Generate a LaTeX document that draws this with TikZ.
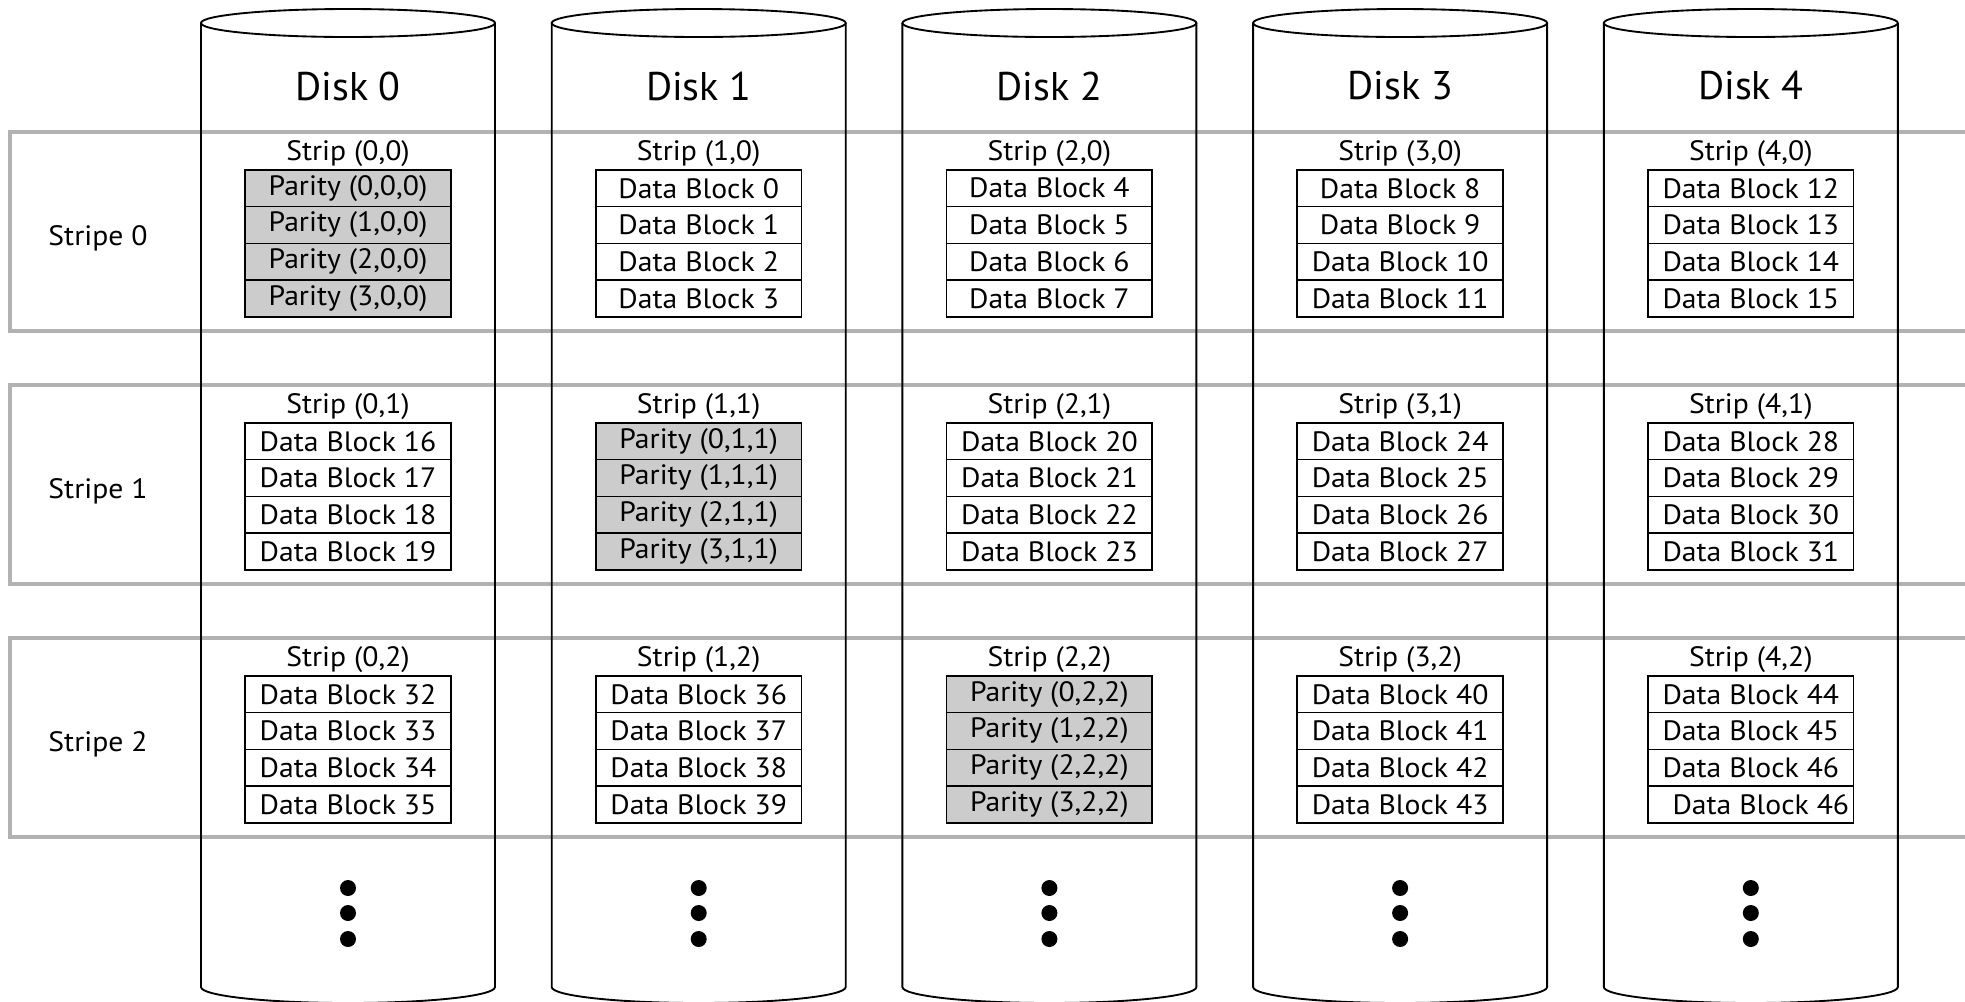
\documentclass[tikz,border=0pt]{standalone}
\usepackage{fontspec}
\setmainfont{PT Sans}
\newfontfamily\blockfont[FakeStretch=1.06]{PT Sans}
\definecolor{stripegray}{RGB}{178,178,178}
\definecolor{parityfill}{RGB}{204,204,204}
\begin{document}
\begin{tikzpicture}[x=0.75pt,y=-0.75pt,
  stripebox/.style={draw=stripegray, line width=2.4pt},
  diskline/.style={draw=black, line width=1.4pt},
  smalltext/.style={font=\blockfont\fontsize{21pt}{22pt}\selectfont},
  blk/.style={draw, line width=1.2pt, minimum width=154.3pt, minimum height=27.6pt,
    inner sep=0pt, anchor=north, smalltext},
  parblk/.style={blk, fill=parityfill},
  striplbl/.style={inner sep=0pt, smalltext},
  disklbl/.style={inner sep=0pt, font=\fontsize{30pt}{32pt}\selectfont},
  dotmark/.style={fill=black}
]
\useasboundingbox (0,0) rectangle (1965,1001);
\clip (0,0) rectangle (1965,1001);
% stripes
\foreach \s in {0,1,2} {
  \pgfmathsetmacro\ty{132+253*\s}
  \draw[stripebox] (10,\ty) rectangle (1990,\ty+199);
  \node[striplbl] (stripe\s) at (98,\ty+106) {Stripe \s};
}
% disks
\foreach \d in {0,...,4} {
  \pgfmathsetmacro\cx{348+350.7*\d}
  \draw[diskline] (\cx,23) ellipse [x radius=147, y radius=14];
  \draw[diskline] (\cx-147,23) -- (\cx-147,987)
     arc[start angle=180, end angle=0, x radius=147, y radius=16] -- (\cx+147,23);
  \node[disklbl] (disk\d) at (\cx,86) {Disk \d};
  \fill[dotmark] (\cx,888) circle [radius=6pt];
  \fill[dotmark] (\cx,913) circle [radius=6pt];
  \fill[dotmark] (\cx,939) circle [radius=6pt];
}
% strips and blocks
\foreach \s in {0,1,2} {
  \foreach \d in {0,...,4} {
    \pgfmathsetmacro\ty{132+253*\s}
    \pgfmathsetmacro\cx{348+350.7*\d}
    \node[striplbl] (strip\d\s) at (\cx,\ty+22) {Strip (\d,\s)};
    \foreach \k in {0,...,3} {
      \ifnum\d=\s
        \node[parblk] (b\d\s\k) at (\cx,\ty+37+36.8*\k) {Parity (\k,\s,\s)};
      \else
        \pgfmathtruncatemacro\j{\d>\s ? \d-1 : \d}
        \pgfmathtruncatemacro\n{16*\s+4*\j+\k}
        \ifnum\n=47
          \node[blk] (b\d\s\k) at (\cx,\ty+37+36.8*\k) {\hspace*{15pt}Data Block 46};
        \else
          \node[blk] (b\d\s\k) at (\cx,\ty+37+36.8*\k) {Data Block \n};
        \fi
      \fi
    }
  }
}
\end{tikzpicture}
\end{document}
